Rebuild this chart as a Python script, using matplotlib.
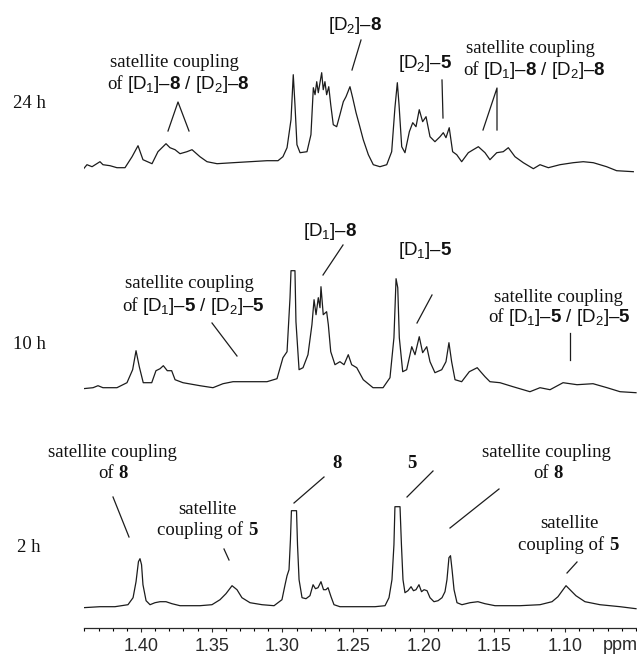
import matplotlib.pyplot as plt
import numpy as np
from matplotlib.transforms import Affine2D
from matplotlib.ticker import MultipleLocator

plt.rcParams['mathtext.fontset'] = 'custom'
plt.rcParams['mathtext.default'] = 'regular'
plt.rcParams['mathtext.rm'] = 'Liberation Sans'
plt.rcParams['mathtext.bf'] = 'Liberation Sans:bold'

# spectra: chemical shift (ppm) and intensity (a.u.)
ppm_24h = [1.4417, 1.4382, 1.4346, 1.4290, 1.4269, 1.4219, 1.4170, 1.4113, 1.4063, 1.4021,
           1.3986, 1.3922, 1.3880, 1.3823, 1.3795, 1.3759, 1.3724, 1.3675, 1.3639, 1.3583,
           1.3533, 1.3462, 1.3349, 1.3229, 1.3109, 1.3031, 1.2996, 1.2967, 1.2939, 1.2923,
           1.2911, 1.2897, 1.2875, 1.2826, 1.2798, 1.2781, 1.2769, 1.2757, 1.2746, 1.2734,
           1.2722, 1.2711, 1.2699, 1.2687, 1.2672, 1.2658, 1.2640, 1.2616, 1.2593, 1.2569,
           1.2550, 1.2522, 1.2503, 1.2479, 1.2456, 1.2428, 1.2392, 1.2357, 1.2310, 1.2262,
           1.2227, 1.2204, 1.2187, 1.2175, 1.2156, 1.2133, 1.2102, 1.2078, 1.2055, 1.2032,
           1.2008, 1.1984, 1.1956, 1.1921, 1.1885, 1.1862, 1.1843, 1.1820, 1.1796, 1.1767,
           1.1732, 1.1685, 1.1650, 1.1614, 1.1567, 1.1532, 1.1484, 1.1438, 1.1402, 1.1355,
           1.1296, 1.1225, 1.1178, 1.1119, 1.1037, 1.0943, 1.0872, 1.0801, 1.0707, 1.0636,
           1.0518]
int_24h = [2, 8, 6, 11, 8, 7, 5, 5, 16, 27,
           13, 9, 21, 29, 25, 23, 19, 21, 23, 16,
           11, 9, 10, 11, 12, 12, 16, 25, 53, 98,
           68, 28, 20, 21, 38, 85, 78, 91, 80, 90,
           100, 83, 91, 78, 86, 68, 48, 46, 58, 71,
           76, 86, 75, 60, 48, 33, 18, 8, 6, 8,
           21, 65, 90, 68, 26, 20, 41, 50, 46, 63,
           51, 56, 36, 31, 36, 40, 35, 45, 21, 18,
           11, 20, 23, 26, 20, 13, 20, 21, 25, 16,
           10, 4, 8, 5, 8, 10, 11, 10, 6, 2,
           1]

ppm_10h = [1.4410, 1.4339, 1.4304, 1.4269, 1.4170, 1.4099, 1.4059, 1.4035, 1.4012, 1.3984,
           1.3924, 1.3894, 1.3865, 1.3842, 1.3814, 1.3783, 1.3759, 1.3703, 1.3583, 1.3491,
           1.3420, 1.3349, 1.3229, 1.3109, 1.3038, 1.2996, 1.2967, 1.2946, 1.2939, 1.2911,
           1.2904, 1.2882, 1.2854, 1.2819, 1.2791, 1.2776, 1.2762, 1.2746, 1.2734, 1.2727,
           1.2711, 1.2687, 1.2675, 1.2658, 1.2628, 1.2593, 1.2564, 1.2534, 1.2510, 1.2474,
           1.2428, 1.2359, 1.2288, 1.2239, 1.2211, 1.2196, 1.2184, 1.2173, 1.2149, 1.2121,
           1.2085, 1.2062, 1.2032, 1.2008, 1.1979, 1.1956, 1.1921, 1.1873, 1.1843, 1.1822,
           1.1803, 1.1779, 1.1732, 1.1678, 1.1650, 1.1622, 1.1598, 1.1567, 1.1532, 1.1461,
           1.1369, 1.1249, 1.1178, 1.1107, 1.1015, 1.0916, 1.0803, 1.0704, 1.0612, 1.0499]
int_10h = [5, 6, 8, 6, 6, 11, 24, 43, 27, 11,
           11, 23, 25, 28, 23, 23, 14, 11, 8, 6,
           10, 12, 12, 12, 15, 36, 42, 96, 123, 123,
           72, 24, 26, 39, 69, 94, 79, 96, 86, 107,
           79, 82, 69, 42, 29, 32, 29, 39, 29, 26,
           14, 6, 6, 16, 56, 115, 106, 56, 22, 24,
           47, 39, 57, 41, 47, 32, 21, 24, 32, 51,
           32, 14, 12, 22, 24, 26, 22, 17, 12, 11,
           7, 2, 6, 4, 11, 9, 10, 6, 2, 1]

ppm_2h = [1.4410, 1.4290, 1.4184, 1.4092, 1.4056, 1.4035, 1.4018, 1.4007, 1.3996, 1.3986,
          1.3964, 1.3936, 1.3901, 1.3865, 1.3823, 1.3781, 1.3724, 1.3583, 1.3498, 1.3441,
          1.3399, 1.3356, 1.3321, 1.3286, 1.3229, 1.3144, 1.3059, 1.3003, 1.2981, 1.2967,
          1.2953, 1.2943, 1.2936, 1.2900, 1.2893, 1.2882, 1.2861, 1.2833, 1.2805, 1.2783,
          1.2766, 1.2748, 1.2727, 1.2709, 1.2692, 1.2677, 1.2656, 1.2635, 1.2593, 1.2451,
          1.2345, 1.2274, 1.2246, 1.2225, 1.2211, 1.2204, 1.2168, 1.2158, 1.2147, 1.2133,
          1.2112, 1.2090, 1.2073, 1.2055, 1.2034, 1.2016, 1.1998, 1.1977, 1.1956, 1.1928,
          1.1899, 1.1871, 1.1850, 1.1836, 1.1822, 1.1811, 1.1800, 1.1786, 1.1765, 1.1730,
          1.1673, 1.1617, 1.1567, 1.1496, 1.1320, 1.1178, 1.1093, 1.1051, 1.1015, 1.0994,
          1.0966, 1.0924, 1.0860, 1.0754, 1.0612, 1.0499]
int_2h = [1, 2, 2, 4, 11, 27, 47, 50, 44, 24,
          8, 4, 6, 7, 7, 5, 3, 3, 4, 9,
          15, 23, 19, 11, 6, 4, 3, 9, 24, 33,
          39, 69, 98, 98, 64, 29, 11, 10, 13, 24,
          20, 21, 27, 19, 19, 21, 12, 4, 2, 2,
          2, 3, 11, 29, 64, 102, 102, 64, 29, 16,
          18, 22, 18, 19, 24, 17, 19, 18, 11, 7,
          8, 11, 17, 29, 51, 53, 39, 19, 6, 4,
          6, 7, 5, 3, 3, 4, 7, 12, 19, 23,
          19, 13, 7, 4, 2, 0]

spectra = [(ppm_24h, int_24h), (ppm_10h, int_10h), (ppm_2h, int_2h)]
times = ['24 h', '10 h', '2 h']
offsets = [455, 234, 19]
ticks = [1.40, 1.35, 1.30, 1.25, 1.20, 1.15, 1.10]

W, H = 637, 655
AX_Y = 627.7  # axis line, pixels from the top
fig = plt.figure(figsize=(W / 100, H / 100), dpi=100)
ax = fig.add_axes([84 / W, (H - AX_Y) / H, 1 - 84 / W, AX_Y / H])

for (x, y), off in zip(spectra, offsets):
    ax.plot(x, np.array(y) + off, color='#1c1c1c', lw=0.9)

ax.set_xlim(1.4403, 1.0492)
ax.set_ylim(0, AX_Y)
ax.set_xticks(ticks)
ax.set_xticklabels([f'{t:.2f}' for t in ticks], family='Liberation Sans', fontsize=13, color='#2a2a2a')
ax.xaxis.set_minor_locator(MultipleLocator(0.01))
ax.tick_params(axis='x', which='major', direction='out', length=3, width=0.8, pad=4.5, colors='#2a2a2a')
ax.tick_params(axis='x', which='minor', direction='out', length=2, width=0.8)
ax.set_yticks([])
for s in ['top', 'left', 'right']:
    ax.spines[s].set_visible(False)
ax.spines['bottom'].set_linewidth(0.9)
ax.spines['bottom'].set_color('#2a2a2a')
ax.patch.set_alpha(0)

# annotation layer in image pixel coordinates (origin top-left)
px = Affine2D().scale(1 / W, -1 / H).translate(0, 1) + fig.transFigure
FS = 13.5


def serif(x, y, s, bold=False):
    return fig.text(x, y, s, transform=px, family='Liberation Serif', fontsize=FS,
                    fontweight='bold' if bold else 'normal', va='baseline', color='#111111')


def sans(x, y, s):
    return fig.text(x, y, s, transform=px, family='Liberation Sans', fontsize=FS,
                    va='baseline', color='#111111')


def after(t, y, s, family, bold=False, gap=3.5):
    # continue a line of text right after text t, on the same baseline
    return ax.annotate(s, xy=(1, y), xycoords=(t, px), xytext=(gap, 0), textcoords='offset points',
                       family=family, fontsize=FS, fontweight='bold' if bold else 'normal',
                       va='baseline', ha='left', color='#111111', annotation_clip=False)


def line(*pts):
    xs, ys = zip(*pts)
    ax.plot(xs, ys, color='#1c1c1c', lw=0.9, transform=px, clip_on=False)


D8 = r'[D$_1$]–$\mathbf{8}$ / [D$_2$]–$\mathbf{8}$'
D5 = r'[D$_1$]–$\mathbf{5}$ / [D$_2$]–$\mathbf{5}$'

# time labels
for lab, (tx, ty) in zip(times, [(13, 108), (13, 349), (17, 552)]):
    serif(tx, ty, lab)

# 24 h
serif(110, 67, 'satellite coupling')
t = serif(107, 89, 'of')
after(t, 89, D8, 'Liberation Sans')
line((168, 131), (178, 102), (189, 131))
sans(328, 30, r'[D$_2$]–$\mathbf{8}$')
line((361, 40), (352, 70))
sans(398, 68, r'[D$_2$]–$\mathbf{5}$')
line((442, 80), (443, 118))
serif(466, 53, 'satellite coupling')
t = serif(463, 75, 'of')
after(t, 75, D8, 'Liberation Sans')
line((483, 130), (497, 88), (497, 130))

# 10 h
serif(125, 288, 'satellite coupling')
t = serif(122, 311, 'of')
after(t, 311, D5, 'Liberation Sans')
line((212, 323), (237, 356))
sans(303, 236, r'[D$_1$]–$\mathbf{8}$')
line((343, 245), (323, 275))
sans(398, 255, r'[D$_1$]–$\mathbf{5}$')
line((432, 295), (417, 323))
serif(494, 302, 'satellite coupling')
t = serif(488, 322, 'of')
after(t, 322, D5, 'Liberation Sans')
line((570, 333), (570, 360))

# 2 h
serif(48, 457, 'satellite coupling')
t = serif(98, 478, 'of')
after(t, 478, '8', 'Liberation Serif', bold=True)
line((113, 497), (129, 537))
serif(178, 514, 'satellite')
t = serif(157, 535, 'coupling of')
after(t, 535, '5', 'Liberation Serif', bold=True)
line((224, 549), (229, 560))
serif(332, 468, '8', bold=True)
line((324, 477), (294, 503))
serif(407, 468, '5', bold=True)
line((433, 471), (407, 497))
serif(482, 457, 'satellite coupling')
t = serif(533, 478, 'of')
after(t, 478, '8', 'Liberation Serif', bold=True)
line((499, 489), (450, 528))
serif(540, 528, 'satellite')
t = serif(518, 550, 'coupling of')
after(t, 550, '5', 'Liberation Serif', bold=True)
line((577, 562), (567, 573))

# axis unit
fig.text(603, 650, 'ppm', transform=px, family='Liberation Sans', fontsize=13,
         va='baseline', color='#2a2a2a')

fig.savefig('out.png', dpi=100, facecolor='white')
